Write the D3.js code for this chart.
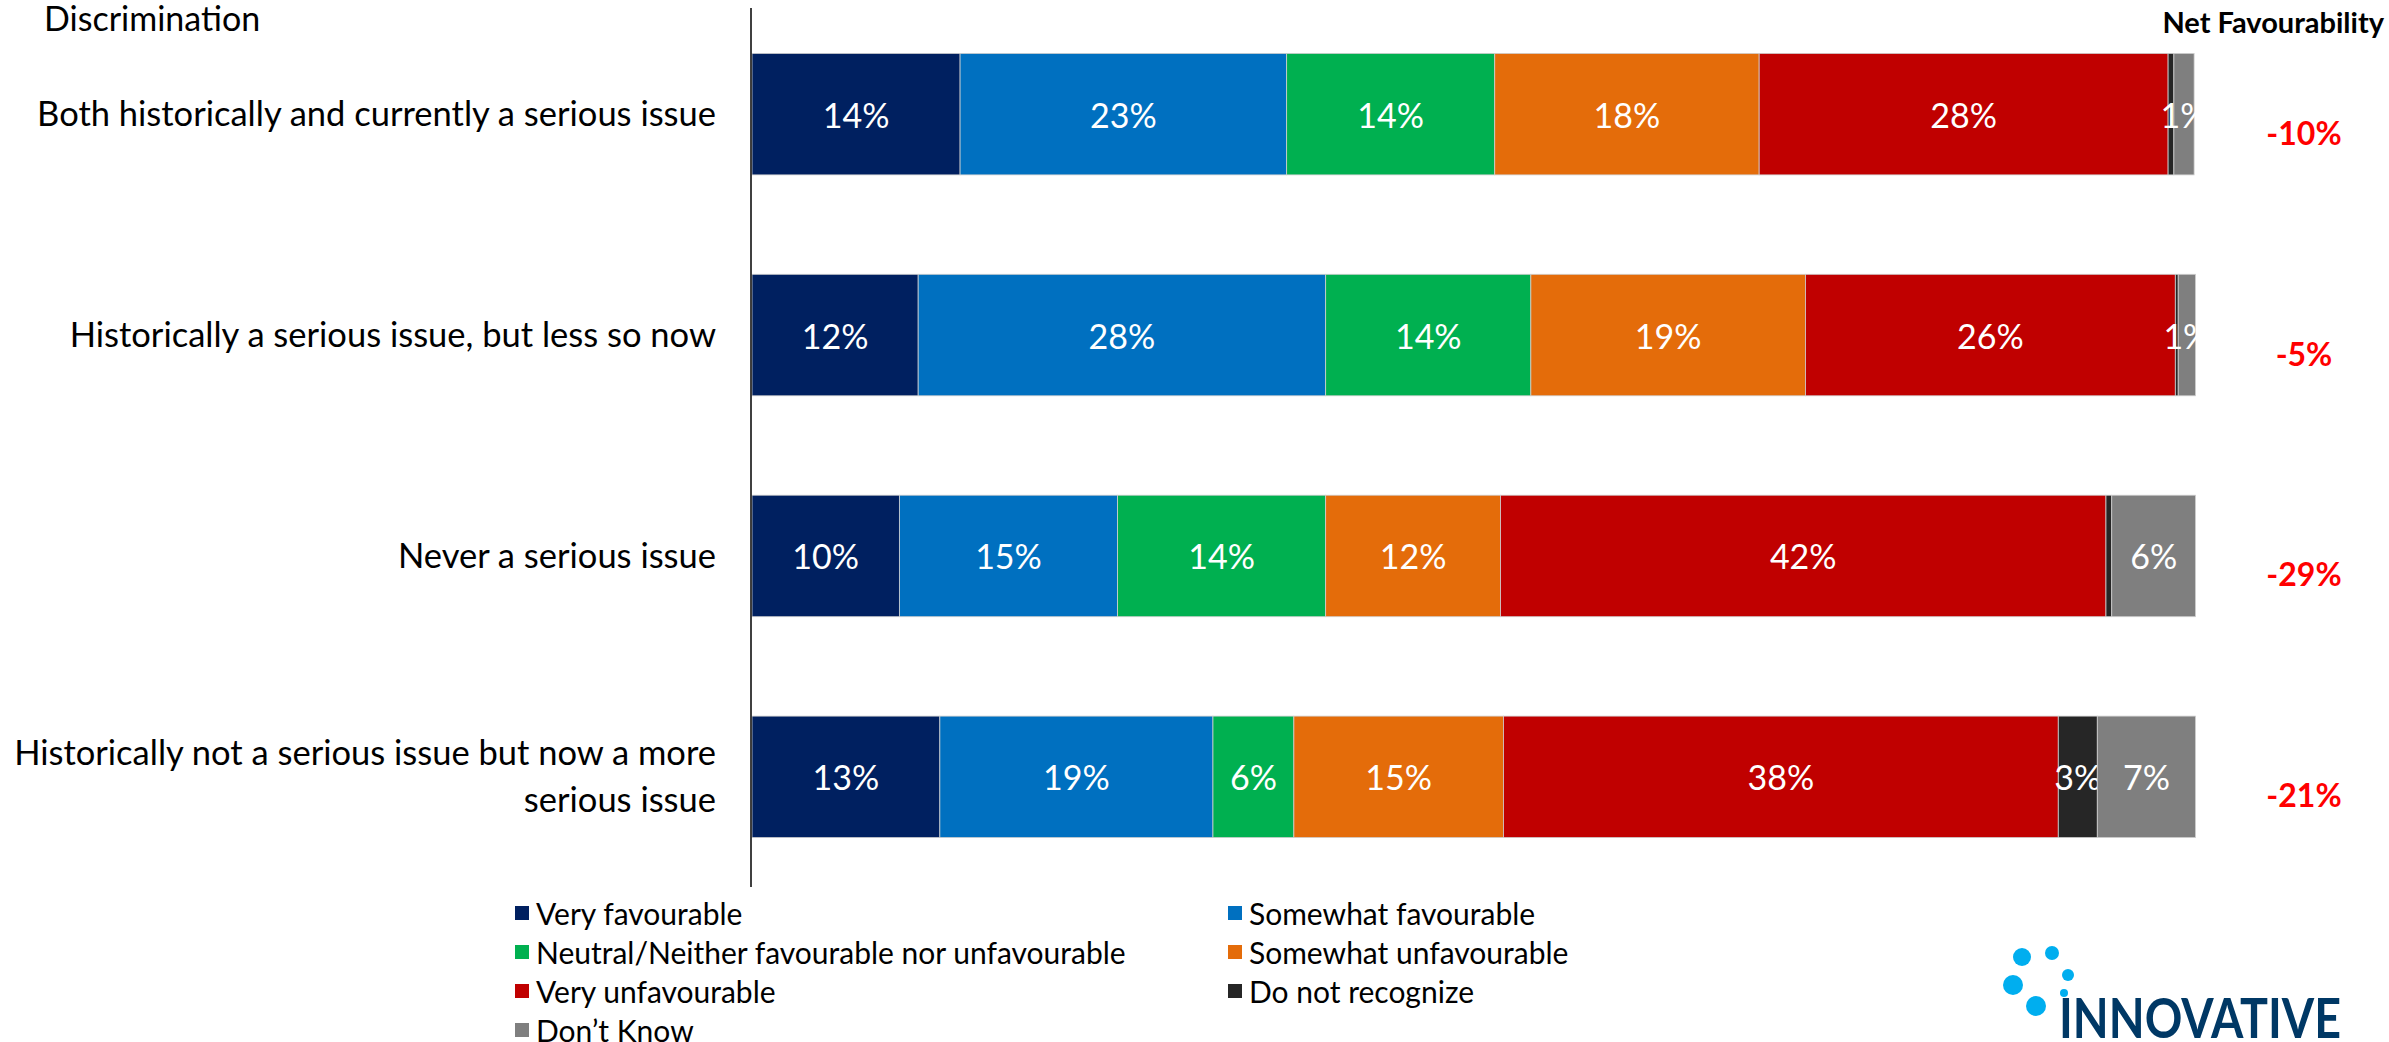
<!DOCTYPE html>
<html>
<head>
<meta charset="utf-8">
<script src="https://cdn.jsdelivr.net/npm/d3@7"></script>
<style>
  body { margin: 0; background: #fff; }
  svg text { font-family: Lato, "Open Sans", sans-serif; }
</style>
</head>
<body>
<div id="chart"></div>
<script>
// categories (one bar each)
var categories = [
  "Both historically and currently a serious issue",
  "Historically a serious issue, but less so now",
  "Never a serious issue",
  "Historically not a serious issue but now a more serious issue"
];

var seriesNames = ["Very favourable", "Somewhat favourable", "Neutral/Neither favourable nor unfavourable",
  "Somewhat unfavourable", "Very unfavourable", "Do not recognize", "Don\u2019t Know"];
var seriesColors = ["#002060", "#0070C0", "#00B050", "#E46C0A", "#C00000", "#262626", "#7F7F7F"];

// percent of respondents
var veryFav        = [14.4, 11.5, 10.2, 13.0];
var somewhatFav    = [22.6, 28.2, 15.1, 18.9];
var neutral        = [14.4, 14.2, 14.4, 5.6];
var somewhatUnfav  = [18.3, 19.0, 12.1, 14.5];
var veryUnfav      = [28.3, 25.6, 41.9, 38.4];
var doNotRecognize = [0.4, 0.2, 0.4, 2.7];
var dontKnow       = [1.4, 1.2, 5.8, 6.8];

var netFav = [-10, -5, -29, -21];

var W = 2389, H = 1042;

var svg = d3.select("#chart").append("svg")
    .attr("width", W)
    .attr("height", H);

// build table for the stack
var keys = seriesNames;
var cols = [veryFav, somewhatFav, neutral, somewhatUnfav, veryUnfav, doNotRecognize, dontKnow];
var table = categories.map(function(c, i) {
  var row = { category: c };
  keys.forEach(function(k, j) { row[k] = cols[j][i]; });
  return row;
});
var stacked = d3.stack().keys(keys)(table);

var x = d3.scaleLinear().domain([0, 100]).range([752, 2197]);
var y = d3.scaleBand().domain(categories).range([7, 884]).paddingInner(0.45).paddingOuter(0.21);
var color = d3.scaleOrdinal().domain(keys).range(seriesColors);

// bars
var layer = svg.selectAll("g.layer")
  .data(stacked)
  .enter().append("g")
    .attr("class", "layer")
    .attr("fill", function(d) { return color(d.key); });

layer.selectAll("rect")
  .data(function(d) { return d; })
  .enter().append("rect")
    .attr("x", function(d) { return x(d[0]); })
    .attr("y", function(d) { return y(d.data.category); })
    .attr("width", function(d) { return x(d[1]) - x(d[0]); })
    .attr("height", y.bandwidth())
    .attr("stroke", "#d0d0d0")
    .attr("stroke-width", 0.8);

// segment labels
layer.selectAll("text")
  .data(function(d) { return d.filter(function(s) { return Math.round(s[1] - s[0]) >= 1; }); })
  .enter().append("text")
    .attr("x", function(d) { return (x(d[0]) + x(d[1])) / 2; })
    .attr("y", function(d) { return y(d.data.category) + y.bandwidth() / 2; })
    .attr("text-anchor", "middle")
    .attr("dominant-baseline", "central")
    .attr("fill", "#fff")
    .attr("font-size", 34)
    .text(function(d) { return Math.round(d[1] - d[0]) + "%"; });

// axis line
svg.append("line")
    .attr("x1", 751).attr("x2", 751)
    .attr("y1", 8).attr("y2", 887)
    .attr("stroke", "#000")
    .attr("stroke-width", 1.5);

// category labels, wrapped
var catFont = 34.5;
svg.selectAll("text.cat")
  .data(categories)
  .enter().append("text")
    .attr("class", "cat")
    .attr("text-anchor", "end")
    .attr("font-size", catFont)
    .attr("fill", "#000")
    .each(function(d) {
      var t = d3.select(this);
      var words = d.split(" "), lines = [], line = [];
      var probe = t.append("tspan");
      words.forEach(function(w) {
        line.push(w);
        probe.text(line.join(" "));
        if (probe.node().getComputedTextLength() > 740 && line.length > 1) {
          line.pop();
          lines.push(line.join(" "));
          line = [w];
        }
      });
      lines.push(line.join(" "));
      probe.remove();
      var lh = 47;
      var cy = y(d) + y.bandwidth() / 2;
      lines.forEach(function(l, i) {
        t.append("tspan")
          .attr("x", 716)
          .attr("y", cy + (i - (lines.length - 1) / 2) * lh)
          .attr("dy", "0.35em")
          .text(l);
      });
    });

// title
svg.append("text")
    .attr("x", 44).attr("y", 31)
    .attr("font-size", 34)
    .text("Discrimination");

// net favourability
svg.append("text")
    .attr("x", 2384).attr("y", 33)
    .attr("text-anchor", "end")
    .attr("font-size", 29)
    .attr("font-weight", "bold")
    .text("Net Favourability");

svg.selectAll("text.net")
  .data(netFav)
  .enter().append("text")
    .attr("class", "net")
    .attr("x", 2304)
    .attr("y", function(d, i) { return y(categories[i]) + y.bandwidth() / 2 + 18; })
    .attr("text-anchor", "middle")
    .attr("dominant-baseline", "central")
    .attr("font-size", 32)
    .attr("font-weight", "bold")
    .attr("fill", "#FF0000")
    .text(function(d) { return d + "%"; });

// legend, two columns
var legend = svg.selectAll("g.leg")
  .data(keys)
  .enter().append("g")
    .attr("class", "leg")
    .attr("transform", function(d, i) {
      return "translate(" + (i % 2 === 0 ? 515 : 1228) + "," + (913 + Math.floor(i / 2) * 39) + ")";
    });
legend.append("rect")
    .attr("x", 0).attr("y", -7)
    .attr("width", 14).attr("height", 14)
    .attr("fill", function(d) { return color(d); });
legend.append("text")
    .attr("x", 21).attr("y", 0)
    .attr("dominant-baseline", "central")
    .attr("font-size", 30)
    .text(function(d) { return d; });

// logo
var logo = svg.append("g");
[[2022, 957, 9], [2052, 953, 7], [2068, 975, 6], [2013, 985, 10], [2036, 1006, 10], [2064, 993, 4]]
  .forEach(function(c) {
    logo.append("circle").attr("cx", c[0]).attr("cy", c[1]).attr("r", c[2]).attr("fill", "#00AEEF");
  });
logo.append("text")
    .attr("x", 2059).attr("y", 1038)
    .attr("font-size", 55)
    .attr("font-weight", "bold")
    .attr("fill", "#003865")
    .attr("textLength", 282)
    .attr("lengthAdjust", "spacingAndGlyphs")
    .text("INNOVATIVE");
</script>
</body>
</html>
